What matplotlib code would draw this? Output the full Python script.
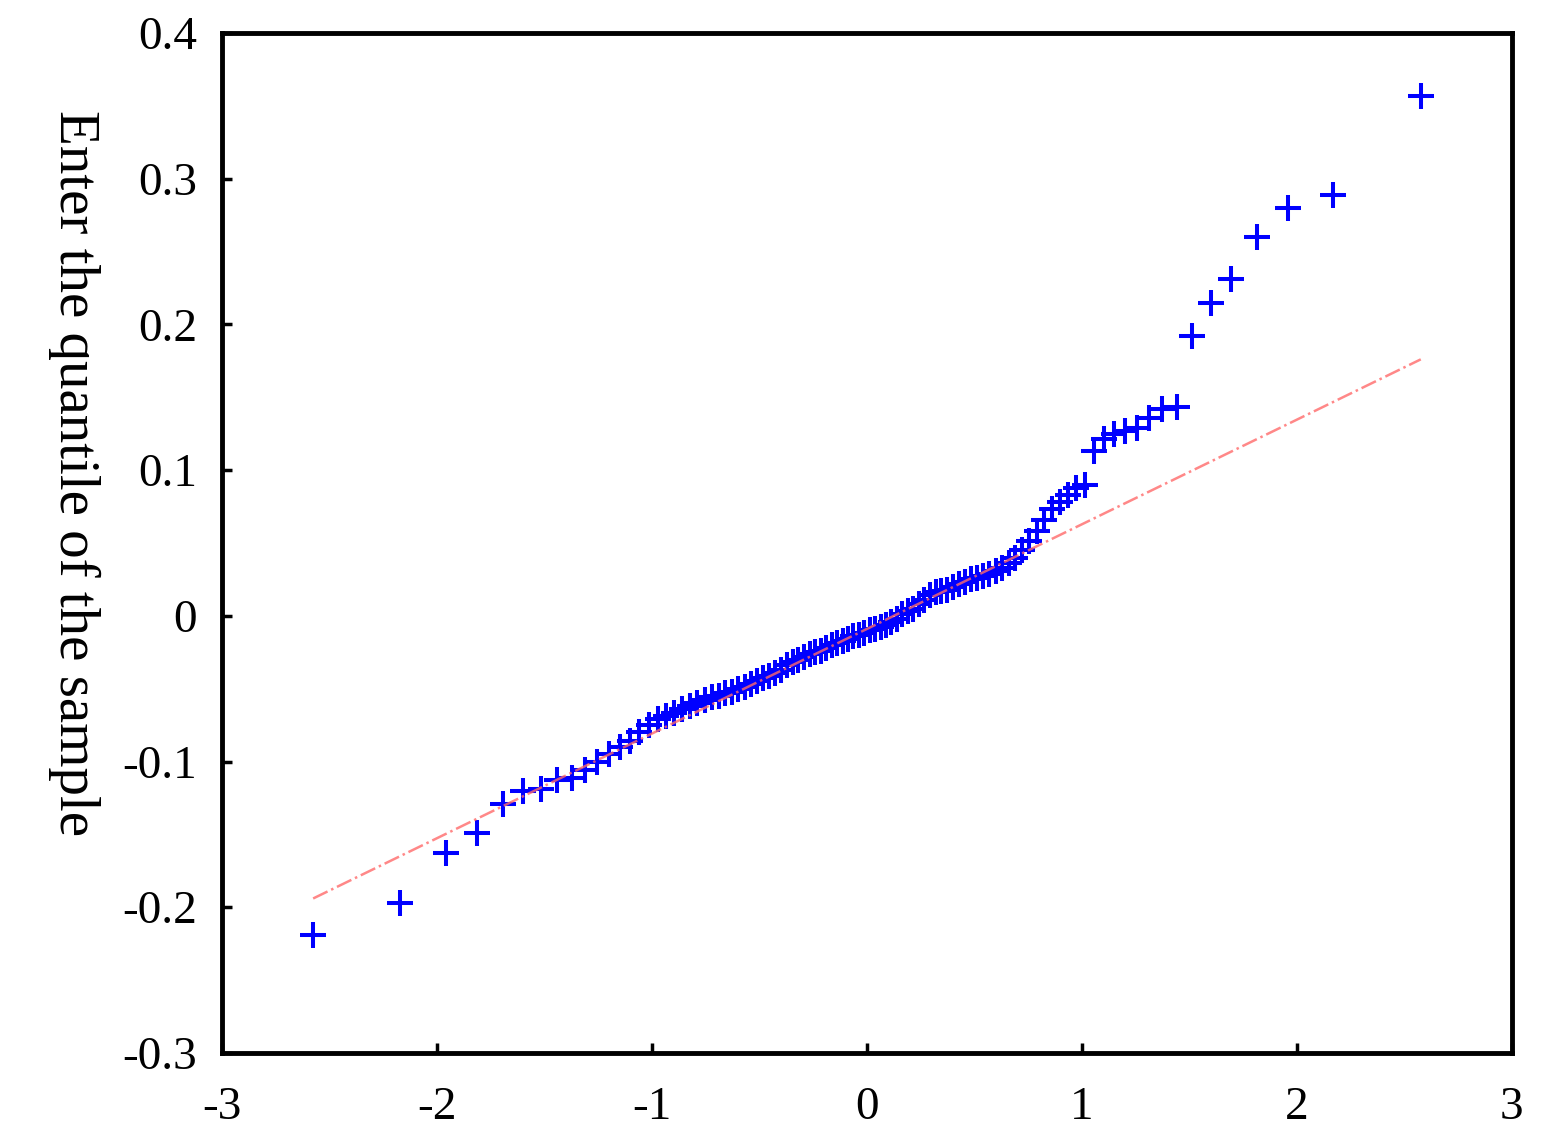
import matplotlib
matplotlib.use("Agg")
import matplotlib.pyplot as plt

plt.rcParams['font.family'] = ['Liberation Serif', 'DejaVu Serif']
plt.rcParams['axes.unicode_minus'] = False

# theoretical normal quantiles (x) and sorted sample values (y)
theo_q = [-2.576, -2.170, -1.960, -1.812, -1.695, -1.598, -1.514, -1.440, -1.372, -1.311,
          -1.254, -1.200, -1.150, -1.103, -1.058, -1.015, -0.974, -0.935, -0.896, -0.860,
          -0.824, -0.789, -0.755, -0.722, -0.690, -0.659, -0.628, -0.598, -0.568, -0.539,
          -0.510, -0.482, -0.454, -0.426, -0.399, -0.372, -0.345, -0.319, -0.292, -0.266,
          -0.240, -0.215, -0.189, -0.164, -0.138, -0.113, -0.088, -0.063, -0.038, -0.013,
          0.013, 0.038, 0.063, 0.088, 0.113, 0.138, 0.164, 0.189, 0.215, 0.240,
          0.266, 0.292, 0.319, 0.345, 0.372, 0.399, 0.426, 0.454, 0.482, 0.510,
          0.539, 0.568, 0.598, 0.628, 0.659, 0.690, 0.722, 0.755, 0.789, 0.824,
          0.860, 0.896, 0.935, 0.974, 1.015, 1.058, 1.103, 1.150, 1.200, 1.254,
          1.311, 1.372, 1.440, 1.514, 1.598, 1.695, 1.812, 1.960, 2.170, 2.576]

sample_q = [-0.219, -0.197, -0.163, -0.149, -0.129, -0.120, -0.119, -0.113, -0.111, -0.106,
            -0.100, -0.095, -0.090, -0.086, -0.080, -0.075, -0.071, -0.069, -0.067, -0.064,
            -0.062, -0.060, -0.058, -0.056, -0.055, -0.053, -0.052, -0.050, -0.049, -0.047,
            -0.045, -0.043, -0.041, -0.039, -0.037, -0.034, -0.032, -0.030, -0.028, -0.026,
            -0.025, -0.024, -0.022, -0.020, -0.019, -0.017, -0.016, -0.014, -0.013, -0.012,
            -0.010, -0.009, -0.008, -0.006, -0.004, -0.002, 0.001, 0.003, 0.005, 0.008,
            0.011, 0.014, 0.016, 0.017, 0.018, 0.020, 0.022, 0.023, 0.025, 0.026,
            0.027, 0.029, 0.031, 0.033, 0.036, 0.040, 0.045, 0.051, 0.058, 0.066,
            0.073, 0.078, 0.083, 0.088, 0.090, 0.113, 0.121, 0.125, 0.127, 0.129,
            0.136, 0.142, 0.143, 0.192, 0.215, 0.231, 0.260, 0.280, 0.289, 0.357]

# reference line end points
ref_x = [-2.576, 2.576]
ref_y = [-0.194, 0.176]

yticks = [-0.3, -0.2, -0.1, 0, 0.1, 0.2, 0.3, 0.4]
ytick_labels = ['-0.3', '-0.2', '-0.1', '0', '0.1', '0.2', '0.3', '0.4']
xticks = [-3, -2, -1, 0, 1, 2, 3]
xtick_labels = ['-3', '-2', '-1', '0', '1', '2', '3']

fig = plt.figure(figsize=(15.48, 11.48), dpi=100)
ax = fig.add_axes([0.1434, 0.0828, 0.8333, 0.8885])

ax.plot(ref_x, ref_y, color='#ff6a6a', linestyle='-.', linewidth=1.8, alpha=0.8, zorder=3)
ax.plot(theo_q, sample_q, linestyle='none', marker='+', color='#0000ff',
        markersize=19, markeredgewidth=2.9, zorder=2)

ax.set_xlim(-3, 3)
ax.set_ylim(-0.3, 0.4)
ax.set_xticks(xticks)
ax.set_xticklabels(xtick_labels)
ax.set_yticks(yticks)
ax.set_yticklabels(ytick_labels)
ax.tick_params(direction='in', length=7, width=2.5, labelsize=34,
               top=False, right=False)
ax.tick_params(axis='x', pad=24)
ax.tick_params(axis='y', pad=18)
for s in ax.spines.values():
    s.set_linewidth(3.5)

ax.set_ylabel('Enter the quantile of the sample', fontsize=41, rotation=-90)
ax.yaxis.set_label_coords(-0.135, 0.569)

fig.savefig('out.png', dpi=100, facecolor='white')
